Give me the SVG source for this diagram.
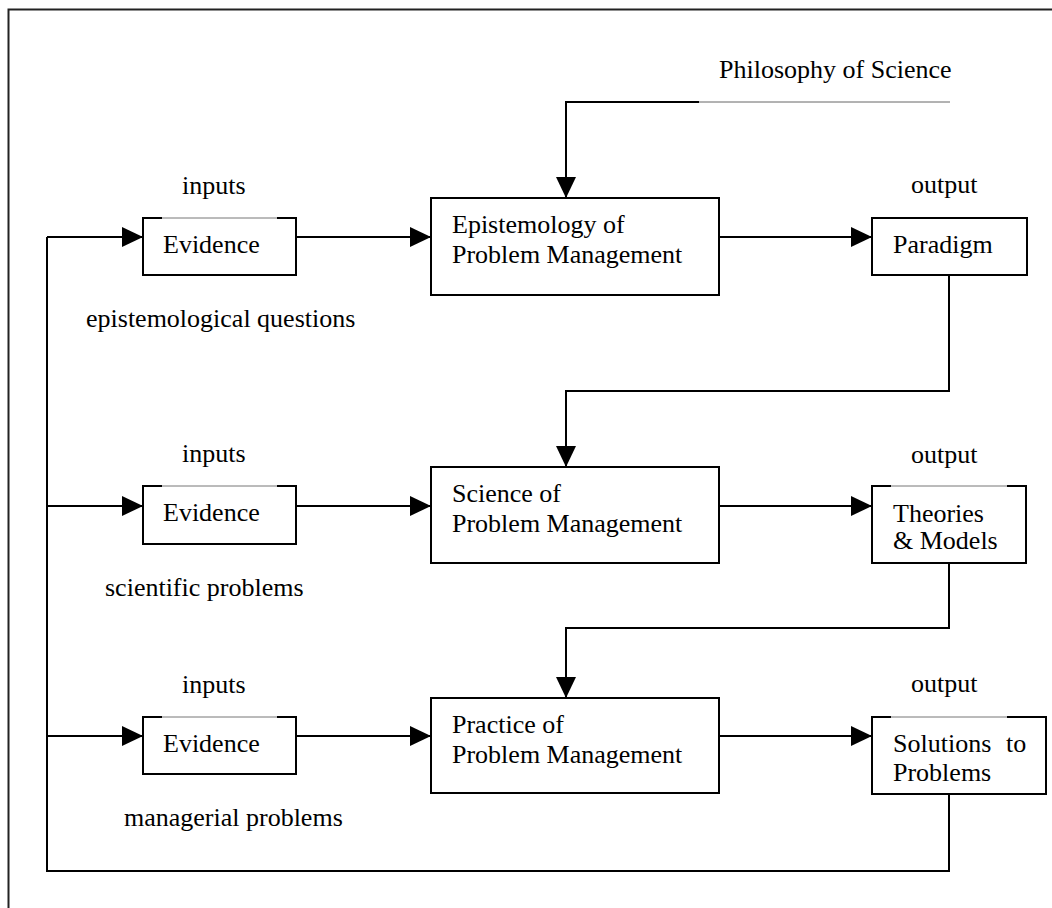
<svg xmlns="http://www.w3.org/2000/svg" width="1052" height="908" viewBox="0 0 1052 908">
<defs>
<style>
text{font-family:"Liberation Serif","Times New Roman",serif;font-size:26px;fill:#000}
.box{fill:#fff;stroke:#000;stroke-width:2}
.ln{fill:none;stroke:#000;stroke-width:2}
.notch{stroke:#fff;stroke-width:2.5}
.notch2{stroke:#777;stroke-width:1}
.arr{fill:none;stroke:#000;stroke-width:2;marker-end:url(#ah)}
</style>
<marker id="ah" markerUnits="userSpaceOnUse" markerWidth="21" markerHeight="20" refX="21" refY="10" orient="auto" viewBox="0 0 21 20">
<path d="M0,0 L21,10 L0,20 Z" fill="#000"/>
</marker>
</defs>
<rect width="1052" height="908" fill="#fff"/>
<path d="M8.5,908 V9.5 H1052" fill="none" stroke="#222" stroke-width="2"/>

<g id="connectors">
<path class="arr" d="M566,102 V198"/>
<path class="ln" d="M565,102 H699"/>
<path d="M699,102 H950" stroke="#666" stroke-width="1"/>
<path class="arr" d="M47,237 H143"/>
<path class="arr" d="M47,506 H143"/>
<path class="arr" d="M47,736 H143"/>
<path class="ln" d="M47,237 V871 H949 V794"/>
<path class="arr" d="M296,237 H431"/>
<path class="arr" d="M296,506 H431"/>
<path class="arr" d="M296,736 H431"/>
<path class="arr" d="M719,237 H872"/>
<path class="arr" d="M719,506 H872"/>
<path class="arr" d="M719,736 H872"/>
<path class="arr" d="M949,275 V391 H566 V467"/>
<path class="arr" d="M949,563 V628 H566 V698"/>
</g>

<g id="philosophy"><text x="719" y="78">Philosophy of Science</text></g>

<g id="labels">
<text x="182" y="194">inputs</text>
<text x="182" y="462">inputs</text>
<text x="182" y="693">inputs</text>
<text x="911" y="193">output</text>
<text x="911" y="463">output</text>
<text x="911" y="692">output</text>
<text x="86" y="327">epistemological questions</text>
<text x="105" y="596">scientific problems</text>
<text x="124" y="826">managerial problems</text>
</g>

<g id="evidence1">
<rect class="box" x="143" y="218" width="153" height="57"/>
<line class="notch" x1="162" y1="218" x2="277" y2="218"/><line class="notch2" x1="162" y1="218" x2="277" y2="218"/>
<text x="163" y="253">Evidence</text>
</g>
<g id="evidence2">
<rect class="box" x="143" y="486" width="153" height="58"/>
<line class="notch" x1="162" y1="486" x2="277" y2="486"/><line class="notch2" x1="162" y1="486" x2="277" y2="486"/>
<text x="163" y="521">Evidence</text>
</g>
<g id="evidence3">
<rect class="box" x="143" y="717" width="153" height="57"/>
<line class="notch" x1="162" y1="717" x2="277" y2="717"/><line class="notch2" x1="162" y1="717" x2="277" y2="717"/>
<text x="163" y="752">Evidence</text>
</g>

<g id="epistemology">
<rect class="box" x="431" y="198" width="288" height="97"/>
<text x="452" y="233">Epistemology of</text>
<text x="452" y="263">Problem Management</text>
</g>
<g id="science">
<rect class="box" x="431" y="467" width="288" height="96"/>
<text x="452" y="502">Science of</text>
<text x="452" y="532">Problem Management</text>
</g>
<g id="practice">
<rect class="box" x="431" y="698" width="288" height="95"/>
<text x="452" y="733">Practice of</text>
<text x="452" y="763">Problem Management</text>
</g>

<g id="paradigm">
<rect class="box" x="872" y="218" width="155" height="57"/>
<text x="893" y="253">Paradigm</text>
</g>
<g id="theories">
<rect class="box" x="872" y="486" width="154" height="77"/>
<line class="notch" x1="891" y1="486" x2="1007" y2="486"/><line class="notch2" x1="891" y1="486" x2="1007" y2="486"/>
<text x="893" y="522">Theories</text>
<text x="893" y="549">&amp; Models</text>
</g>
<g id="solutions">
<rect class="box" x="872" y="717" width="174" height="77"/>
<line class="notch" x1="891" y1="717" x2="1007" y2="717"/><line class="notch2" x1="891" y1="717" x2="1007" y2="717"/>
<text x="893" y="752">Solutions <tspan x="1006">to</tspan></text>
<text x="893" y="781">Problems</text>
</g>
</svg>
